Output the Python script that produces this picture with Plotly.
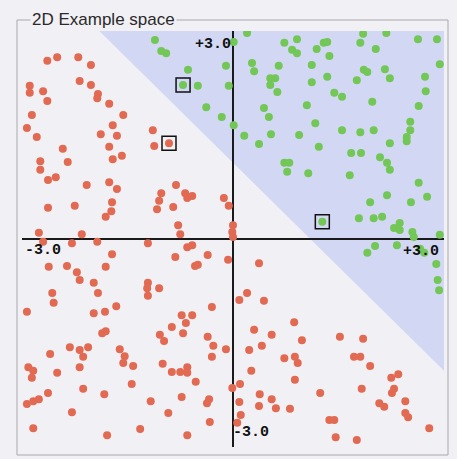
import plotly.graph_objects as go

# Class A examples (drawn in red)
red_x = [-2.64, -2.50, -2.20, -2.02, -2.18, -2.02, -2.89, -2.89, -2.70, -2.64,
         -1.92, -1.93, -1.76, -2.86, -1.56, -2.93, -2.79, -2.42, -2.74, -2.35,
         -2.74, -2.63, -2.52, -2.08, -2.63, -2.25, -2.76, -2.15, -1.71, -1.88,
         -1.65, -1.76, -1.71, -1.58, -1.76, -1.65, -1.72, -1.73, -1.81, -1.14,
         -1.12, -0.91, -0.81, -1.02, -1.05, -1.08, -0.85, -0.68, -0.65, -0.58,
         -0.78, -0.75, -0.13, -0.06, 0.00, -0.01, 0.00, -2.70, -2.29, -1.93,
         -1.21, -1.72, -0.82, -0.65, -0.58, -0.36, -0.07, -2.62, -2.36, -2.22,
         -2.18, -1.81, -1.98, -1.92, -2.57, -2.55, -1.21, -1.22, -1.05, -1.21,
         -0.54, -0.50, -1.66, -2.93, -1.98, -1.82, -0.30, -0.73, -0.58, -0.67,
         -0.87, -1.04, -0.98, -0.71, -1.86, -1.81, -0.36, -0.28, -0.10, -2.32,
         -2.18, -2.06, -2.13, -2.60, -1.61, -1.54, -1.56, -1.42, -2.18, -2.91,
         -2.84, -2.86, -2.50, -1.00, -0.87, -0.75, -0.65, -0.65, -0.53, -0.30,
         -2.13, -2.63, -2.76, -2.84, -2.93, -1.83, -1.44, -1.17, -0.73, -0.34,
         -0.37, -2.29, -0.92, -0.33, -2.84, -1.79, -1.32, -0.65, 0.37, 0.20,
         0.09, 0.44, 0.87, 0.30, 0.55, 0.98, 1.52, 1.85, 0.23, 0.41,
         0.73, 0.88, 1.72, 1.81, 0.92, 1.95, 0.26, 0.88, 2.25, 2.35,
         -0.01, 0.10, 0.38, 0.55, 0.37, 0.61, 0.81, 1.24, 1.83, 2.29,
         2.26, 2.08, 2.15, 2.45, 2.45, 2.49, 0.09, 0.11, 0.06, 1.37,
         1.44, 1.46, 1.76, 2.79]
red_y = [2.57, 2.62, 2.62, 2.51, 2.28, 2.22, 2.21, 2.11, 2.13, 1.99,
         2.09, 2.03, 1.95, 1.79, 1.79, 1.60, 1.47, 1.30, 1.12, 1.11,
         1.00, 0.85, 0.89, 0.78, 0.45, 0.48, 0.09, 0.07, 1.64, 1.51,
         1.49, 1.33, 1.15, 1.20, 0.82, 0.72, 0.53, 0.40, 0.32, 1.57,
         1.34, 1.38, 0.78, 0.66, 0.55, 0.43, 0.46, 0.66, 0.59, 0.62,
         0.20, 0.07, 0.59, 0.48, 0.20, 0.10, 0.03, -0.04, -0.06, -0.04,
         -0.06, -0.22, -0.26, -0.12, -0.09, -0.23, -0.30, -0.40, -0.39, -0.48,
         -0.59, -0.40, -0.63, -0.78, -0.78, -0.92, -0.63, -0.71, -0.71, -0.82,
         -0.39, -0.37, -0.97, -1.05, -1.07, -1.05, -0.98, -1.10, -1.10, -1.21,
         -1.27, -1.38, -1.47, -1.36, -1.36, -1.33, -1.41, -1.54, -1.59, -1.56,
         -1.60, -1.56, -1.70, -1.66, -1.59, -1.69, -1.79, -1.83, -1.85, -1.85,
         -1.90, -2.00, -1.93, -1.80, -1.92, -1.92, -1.85, -1.93, -2.06, -1.70,
         -2.16, -2.22, -2.31, -2.34, -2.38, -2.24, -2.09, -2.34, -2.28, -2.31,
         -2.37, -2.50, -2.51, -2.64, -2.73, -2.83, -2.74, -2.83, -0.35, -0.78,
         -0.88, -0.89, -1.20, -1.31, -1.38, -1.46, -1.41, -1.44, -1.60, -1.54,
         -1.72, -1.70, -1.70, -1.70, -1.79, -1.83, -1.90, -2.03, -2.00, -1.95,
         -2.15, -2.09, -2.24, -2.31, -2.41, -2.44, -2.45, -2.22, -2.16, -2.16,
         -2.22, -2.37, -2.42, -2.34, -2.51, -2.57, -2.35, -2.54, -2.65, -2.61,
         -2.61, -2.86, -2.90, -2.73]

# Class B examples (drawn in green)
green_x = [-1.11, -1.02, -0.95, -0.64, -0.71, -0.50, -0.38, -0.16, -0.10, -0.06,
           0.01, 0.01, 0.20, 0.73, 0.91, 0.84, 0.91, 1.19, 1.29, 1.34,
           1.37, 1.81, 1.85, 2.03, 2.18, 2.63, 2.90, 2.94, 0.27, 0.30,
           0.65, 0.53, 0.60, 0.53, 0.63, 1.12, 1.12, 1.34, 1.44, 1.55,
           1.76, 1.86, 1.91, 2.16, 2.23, 1.98, 2.73, 2.74, 2.64, 0.44,
           0.51, 1.05, 0.16, 0.37, 0.54, 0.94, 1.17, 1.22, 1.55, 1.81,
           2.00, 2.52, 2.52, 2.47, 2.47, 2.23, 1.68, 1.82, 2.09, 2.19,
           2.23, 0.73, 0.80, 0.77, 1.07, 1.66, 2.64, 2.19, 2.76, 2.53,
           1.95, 1.79, 2.00, 2.12, 1.27, 2.37, 2.29, 2.37, 2.55, 2.57,
           2.94, 1.91, 2.02, 2.33, 2.66, 2.72, 2.89, 2.91, 2.93]
green_y = [2.87, 2.71, 2.68, 2.44, 2.22, 2.21, 1.90, 1.76, 2.50, 2.21,
           1.64, 2.84, 2.97, 2.83, 2.88, 2.73, 2.68, 2.74, 2.83, 2.84,
           2.64, 2.83, 2.96, 2.74, 2.97, 2.88, 2.88, 2.52, 2.54, 2.42,
           2.50, 2.32, 2.32, 2.22, 2.12, 2.51, 2.26, 2.34, 2.11, 2.05,
           2.29, 2.44, 2.41, 2.45, 2.32, 1.98, 2.34, 2.13, 1.92, 1.89,
           1.76, 1.93, 1.49, 1.37, 1.51, 1.50, 1.67, 1.33, 1.57, 1.54,
           1.57, 1.69, 1.57, 1.47, 1.41, 1.38, 1.24, 1.24, 1.18, 1.10,
           1.00, 1.10, 1.10, 0.97, 0.95, 0.92, 0.81, 0.63, 0.61, 0.53,
           0.53, 0.30, 0.30, 0.32, 0.25, 0.23, 0.16, 0.13, 0.10, 0.03,
           0.06, -0.20, -0.10, -0.09, -0.14, -0.20, -0.36, -0.59, -0.74]

# Examples picked out with a box
boxed_red = [41]
boxed_green = [4, 84]

# Separating line: x + y = boundary
boundary = 1.1
axis_min, axis_max = -3.0, 3.0
tick_text = {"xmin": "-3.0", "xmax": "+3.0", "ymin": "-3.0", "ymax": "+3.0"}

W, H = 457, 459
ML, MR, MT, MB = 22, 13, 31, 12
PW, PH = W - ML - MR, H - MT - MB

PAPER = "#f1f0f4"
REGION = "#d2d8f4"
RED = "#e26a53"
GREEN = "#72c756"


def px_x(p):
    return (p - ML) / PW


def px_y(p):
    return (H - MB - p) / PH


fig = go.Figure()

fig.add_trace(go.Scatter(
    x=red_x, y=red_y, mode="markers",
    marker=dict(size=8, color=RED, line=dict(width=0)),
    hoverinfo="skip", showlegend=False))
fig.add_trace(go.Scatter(
    x=green_x, y=green_y, mode="markers",
    marker=dict(size=8, color=GREEN, line=dict(width=0)),
    hoverinfo="skip", showlegend=False))

box_x = [red_x[i] for i in boxed_red] + [green_x[i] for i in boxed_green]
box_y = [red_y[i] for i in boxed_red] + [green_y[i] for i in boxed_green]
fig.add_trace(go.Scatter(
    x=box_x, y=box_y, mode="markers",
    marker=dict(symbol="square-open", size=14, color="#111111",
                line=dict(width=1.5, color="#111111")),
    hoverinfo="skip", showlegend=False))

# Half-plane on the class B side of the line
region_path = "M {a},{t} L {r},{t} L {r},{b} Z".format(
    a=boundary - axis_max, t=axis_max, r=axis_max, b=boundary - axis_max)

shapes = [
    dict(type="path", path=region_path, xref="x", yref="y",
         fillcolor=REGION, line=dict(width=0), layer="below"),
    # group box frame
    dict(type="rect", xref="paper", yref="paper",
         x0=px_x(17), x1=px_x(448), y0=px_y(455), y1=px_y(20),
         line=dict(color="#a9a9ad", width=1), fillcolor="rgba(0,0,0,0)",
         layer="below"),
]

tick_font = dict(family="Liberation Mono, Courier New, monospace",
                 size=15, color="#111111")
annotations = [
    dict(text="2D Example space", xref="paper", yref="paper",
         x=px_x(30), y=px_y(20), xanchor="left", yanchor="middle",
         showarrow=False, bgcolor=PAPER,
         font=dict(family="Liberation Sans, Arial, sans-serif", size=17,
                   color="#2a2a2a")),
    dict(text="<b>%s</b>" % tick_text["xmin"], x=axis_min, y=0, xref="x", yref="y",
         xanchor="left", yanchor="top", xshift=1, yshift=-1,
         showarrow=False, font=tick_font),
    dict(text="<b>%s</b>" % tick_text["xmax"], x=axis_max, y=0, xref="x", yref="y",
         xanchor="right", yanchor="top", xshift=-3, yshift=-2,
         showarrow=False, font=tick_font),
    dict(text="<b>%s</b>" % tick_text["ymax"], x=0, y=axis_max, xref="x", yref="y",
         xanchor="right", yanchor="top", xshift=0, yshift=-3,
         showarrow=False, font=tick_font),
    dict(text="<b>%s</b>" % tick_text["ymin"], x=0, y=axis_min, xref="x", yref="y",
         xanchor="left", yanchor="bottom", xshift=-2, yshift=4,
         showarrow=False, font=tick_font),
]

axis_style = dict(range=[axis_min, axis_max], showgrid=False, showticklabels=False,
                  ticks="", showline=False, zeroline=True, zerolinecolor="#1a1a1a",
                  zerolinewidth=1.5, fixedrange=True)

fig.update_layout(
    width=W, height=H,
    margin=dict(l=ML, r=MR, t=MT, b=MB, pad=0),
    paper_bgcolor=PAPER, plot_bgcolor=PAPER,
    xaxis=axis_style, yaxis=axis_style,
    shapes=shapes, annotations=annotations,
    showlegend=False,
)

fig.write_html("out.html", config={"displayModeBar": False})
